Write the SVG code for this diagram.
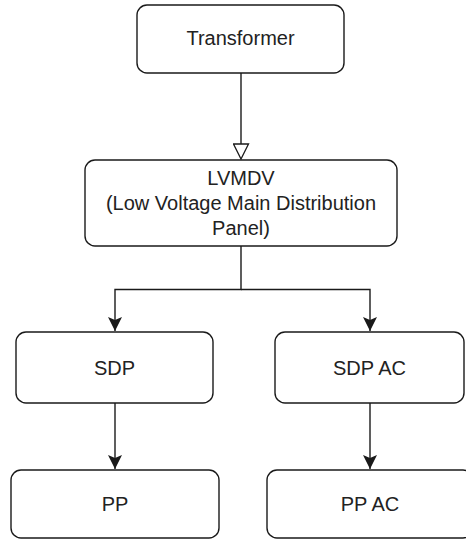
<svg xmlns="http://www.w3.org/2000/svg" width="466" height="539" viewBox="0 0 466 539">
  <style>
    .box { fill: #ffffff; stroke: #1a1a1a; stroke-width: 1.4; }
    .label { font-family: "Liberation Sans", Arial, Helvetica, sans-serif; font-size: 20px; fill: #222222; text-anchor: middle; }
    .wire { fill: none; stroke: #1a1a1a; stroke-width: 1.4; }
  </style>
  <defs>
    <!-- filled classic arrowhead, tip at the line end -->
    <marker id="arrow" viewBox="0 0 14 14" refX="14" refY="7" markerWidth="14" markerHeight="14" markerUnits="userSpaceOnUse" orient="auto">
      <path d="M0,0 L14,7 L0,14 L3,7 Z" fill="#1a1a1a"/>
    </marker>
    <!-- hollow block arrowhead, starts at the line end -->
    <marker id="hollow" viewBox="-1 -1 17 17" refX="0" refY="7.5" markerWidth="17" markerHeight="17" markerUnits="userSpaceOnUse" orient="auto">
      <path d="M0,0 L15,7.5 L0,15 Z" fill="#ffffff" stroke="#1a1a1a" stroke-width="1.3"/>
    </marker>
  </defs>

  <g id="connectors">
    <path class="wire" d="M241,73 V144" marker-end="url(#hollow)"/>
    <path class="wire" d="M241,246 V289.5 H115 V331" marker-end="url(#arrow)"/>
    <path class="wire" d="M241,289.5 H370 V331" marker-end="url(#arrow)"/>
    <path class="wire" d="M115,403 V469" marker-end="url(#arrow)"/>
    <path class="wire" d="M370,403 V469" marker-end="url(#arrow)"/>
  </g>

  <g id="transformer">
    <rect class="box" x="137" y="5" width="207" height="68" rx="10"/>
    <text class="label" x="240.5" y="45">Transformer</text>
  </g>

  <g id="lvmdv">
    <rect class="box" x="85" y="160" width="312" height="86" rx="10"/>
    <text class="label" x="241" y="185">LVMDV</text>
    <text class="label" x="241" y="210">(Low Voltage Main Distribution</text>
    <text class="label" x="241" y="235">Panel)</text>
  </g>

  <g id="sdp">
    <rect class="box" x="16" y="332" width="197" height="71" rx="10"/>
    <text class="label" x="114.5" y="375">SDP</text>
  </g>

  <g id="sdp-ac">
    <rect class="box" x="275" y="332" width="189" height="71" rx="10"/>
    <text class="label" x="369.5" y="375">SDP AC</text>
  </g>

  <g id="pp">
    <rect class="box" x="11" y="470" width="208" height="68" rx="10"/>
    <text class="label" x="115" y="511">PP</text>
  </g>

  <g id="pp-ac">
    <rect class="box" x="267" y="470" width="206" height="68" rx="10"/>
    <text class="label" x="370" y="511">PP AC</text>
  </g>
</svg>
